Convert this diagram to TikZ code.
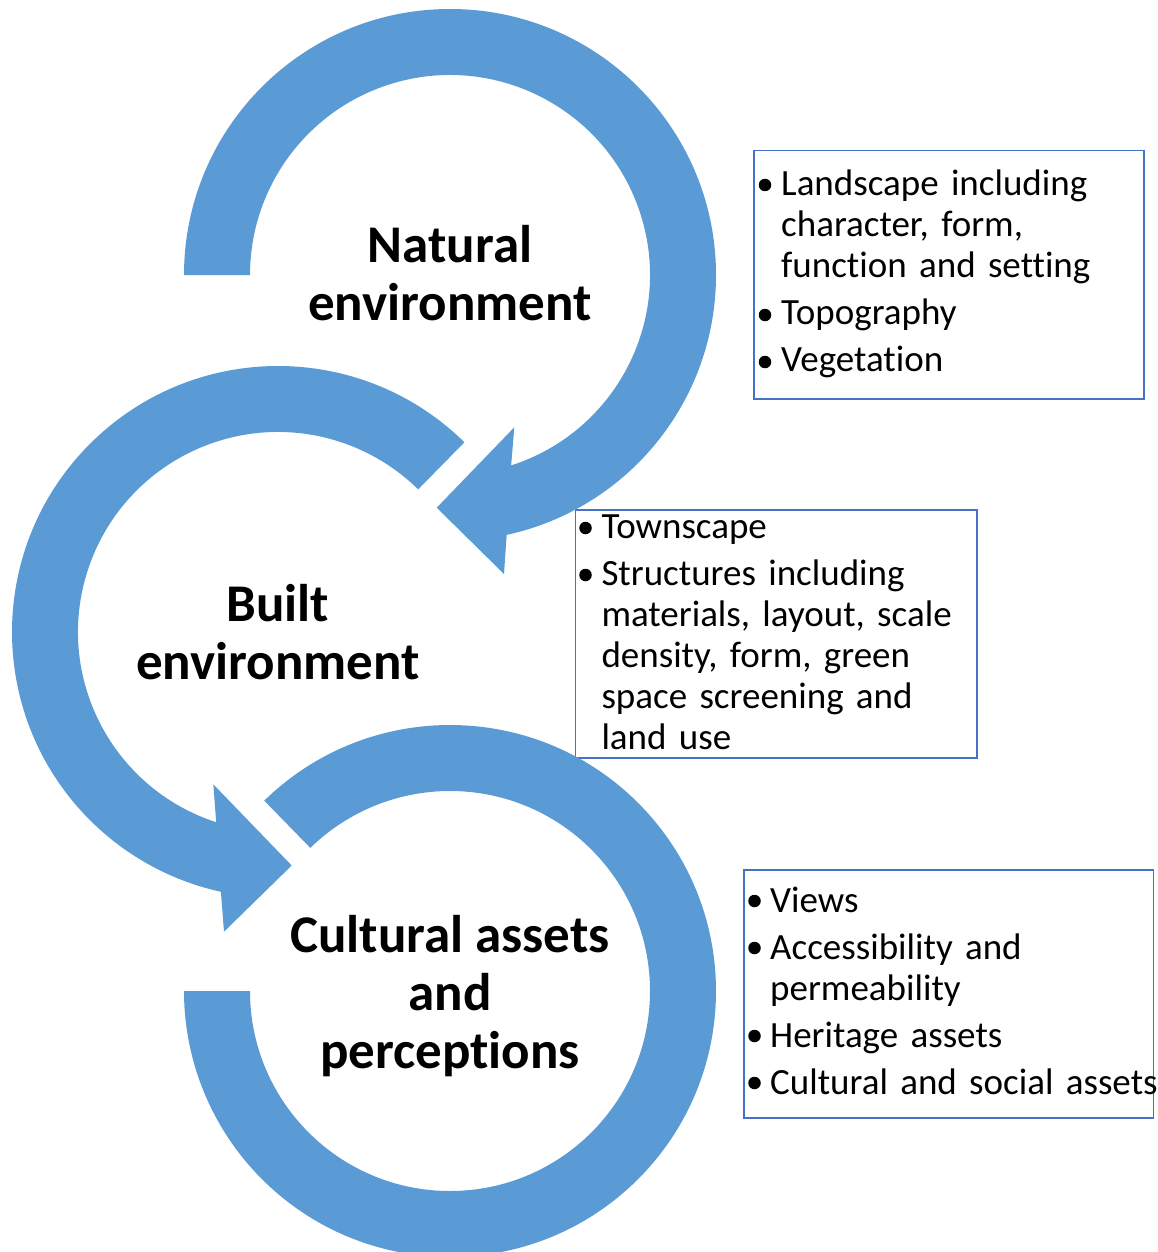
\documentclass[tikz,border=0pt]{standalone}
\usepackage{fontspec}
\setmainfont{Carlito}[Ligatures=NoCommon]
\usetikzlibrary{calc}
\definecolor{ringblue}{HTML}{5B9BD5}
\definecolor{boxblue}{HTML}{4472C4}
\newcommand{\ind}{\hspace*{21.5pt}}
\begin{document}
\begin{tikzpicture}[x=1pt,y=1pt,
  ring/.style={fill=ringblue},
  listbox/.style={draw=boxblue, line width=1.5pt, rectangle, inner sep=0pt, anchor=north west},
  listtext/.style={anchor=north west, inner sep=0pt, text width=460pt, align=left,
                   font=\fontsize{37pt}{41pt}\selectfont},
  bulletdot/.style={circle, fill=black, inner sep=0pt, minimum size=12.5pt},
  title/.style={inner sep=0pt, align=center, font=\fontsize{53pt}{58pt}\selectfont\bfseries}]
\useasboundingbox (0,0) rectangle (1158,-1252);
\coordinate (c1) at (450,-275);
\coordinate (c2) at (278,-632);
\coordinate (c3) at (450,-991);
% boxes
\node[listbox, minimum width=390pt, minimum height=248pt] (box1) at (753.3,-150) {};
\node[listbox, minimum width=401.6pt, minimum height=248pt] (box2) at (574.7,-509.3) {};
\node[listbox, minimum width=409.4pt, minimum height=248pt] (box3) at (743.3,-869.3) {};
% ring 1
\fill[ring] ([shift={(180:266pt)}]c1) arc[start angle=180, end angle=-77.7, radius=266pt]
  -- (504,-574) -- (436.7,-507.7) -- (514.3,-427.3)
  -- ([shift={(-72.2:200pt)}]c1) arc[start angle=-72.2, end angle=180, radius=200pt] -- cycle;
% ring 2
\fill[ring] ([shift={(45.5:266pt)}]c2) arc[start angle=45.5, end angle=257.6, radius=266pt]
  -- (224,-931.7) -- (291.7,-865.5) -- (213.3,-784.3)
  -- ([shift={(252:200pt)}]c2) arc[start angle=252, end angle=45.5, radius=200pt] -- cycle;
% ring 3
\fill[ring] ([shift={(134.3:266pt)}]c3) arc[start angle=134.3, end angle=-180, radius=266pt]
  -- ([shift={(-180:200pt)}]c3) arc[start angle=-180, end angle=134.3, radius=200pt] -- cycle;
% titles
\node[title] (natural) at (450,-273) {Natural\\environment};
\node[title] (built) at (278,-632) {Built\\environment};
\node[title] (cultural) at (450,-996) {Cultural assets\\and\\perceptions};
% list texts
\node[listtext] (t1) at (759.5,-163) {\rule{0pt}{32pt}\ind Landscape including\\
\ind character, form,\\
\ind function and setting\\[6pt]
\ind Topography\\[6pt]
\ind Vegetation};
\node[listtext] (t2) at (579.8,-506) {\rule{0pt}{32pt}\ind Townscape\\[6pt]
\ind Structures including\\
\ind materials, layout, scale\\
\ind density, form, green\\
\ind space screening and\\
\ind land use};
\node[listtext] (t3) at (748.5,-880) {\rule{0pt}{32pt}\ind Views\\[6pt]
\ind Accessibility and\\
\ind permeability\\[6pt]
\ind Heritage assets\\[6pt]
\ind Cultural and social assets};
% bullets
\node[bulletdot] (b11) at (765,-185) {};
\node[bulletdot] (b12) at (765,-315) {};
\node[bulletdot] (b13) at (765,-362) {};
\node[bulletdot] (b21) at (585.5,-528) {};
\node[bulletdot] (b22) at (585.5,-575) {};
\node[bulletdot] (b31) at (754.5,-901) {};
\node[bulletdot] (b32) at (754.5,-948) {};
\node[bulletdot] (b33) at (754.5,-1036) {};
\node[bulletdot] (b34) at (754.5,-1083) {};
\end{tikzpicture}
\end{document}
